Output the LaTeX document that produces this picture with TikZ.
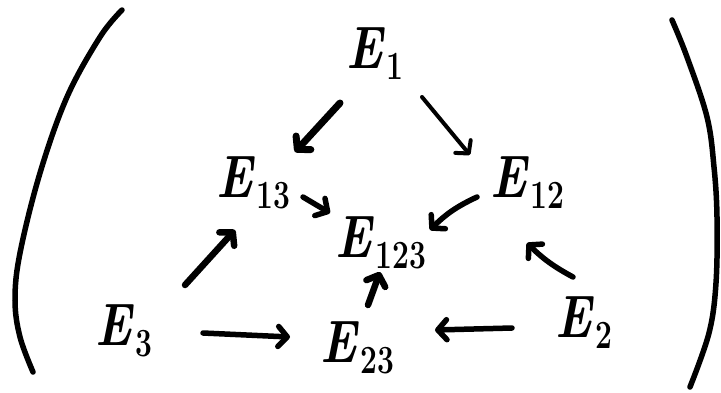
\documentclass[tikz,border=0pt]{standalone}
\usepackage{fontspec}
\usetikzlibrary{arrows.meta}
\newcommand{\Elab}[1]{\scalebox{0.8}[1]{\bfseries\itshape E}\kern4pt\raisebox{-11pt}{\scalebox{0.75}[1]{\fontsize{40}{40}\selectfont\bfseries #1}}}
\tikzset{
  lbl/.style={anchor=base west, inner sep=0pt, font=\fontsize{60}{70}\selectfont},
  arr/.style={line cap=round, line join=round, line width=#1,
    -{Straight Barb[length=9pt,width=20pt,line cap=round,line join=round]}},
  arr/.default=5pt,
  paren/.style={line width=5.5pt, line cap=round}
}
\begin{document}
\begin{tikzpicture}[x=1pt,y=-1pt]
\useasboundingbox (0,0) rectangle (721,392);
% nodes
\node[lbl] (E1)   at (346,68)  {\Elab{1}};
\node[lbl] (E13)  at (216,197) {\Elab{13}};
\node[lbl] (E12)  at (490,197) {\Elab{12}};
\node[lbl] (E123) at (335,257) {\Elab{123}};
\node[lbl] (E3)   at (95,345)  {\Elab{3}};
\node[lbl] (E23)  at (320,362) {\Elab{23}};
\node[lbl] (E2)   at (555,337) {\Elab{2}};
% connector ends
\coordinate (E1-s13)  at (340,103);  \coordinate (E13-t1)  at (295,152);
\coordinate (E1-s12)  at (422,97);   \coordinate (E12-t1)  at (470,155);
\coordinate (E13-s)   at (303,197);  \coordinate (E123-t13) at (330,213);
\coordinate (E12-s)   at (477,197);  \coordinate (E123-t12) at (430,230);
\coordinate (E3-s13)  at (185,285);  \coordinate (E13-t3)  at (235,230);
\coordinate (E2-s12)  at (573,277);  \coordinate (E12-t2)  at (527,243);
\coordinate (E23-s)   at (368,305);  \coordinate (E123-t23) at (380,272);
\coordinate (E3-s23)  at (203,333);  \coordinate (E23-t3)  at (290,337);
\coordinate (E2-s23)  at (512,328);  \coordinate (E23-t2)  at (435,330);
% connectors
\draw[arr=7pt] (E1-s13) -- (E13-t1);
\draw[arr=4pt] (E1-s12) -- (E12-t1);
\draw[arr=5.5pt] (E13-s) -- (E123-t13);
\draw[arr=5.5pt] (E12-s) to[bend right=10] (E123-t12);
\draw[arr=6.5pt] (E3-s13) -- (E13-t3);
\draw[arr=5.5pt] (E2-s12) to[bend left=8] (E12-t2);
\draw[arr=6.5pt] (E23-s) -- (E123-t23);
\draw[arr=5.5pt] (E3-s23) -- (E23-t3);
\draw[arr=5.5pt] (E2-s23) -- (E23-t2);
% parentheses
\draw[paren] plot[smooth, tension=0.6] coordinates {(122,10) (100,37) (67,97) (40,173) (20,253) (15,300) (20,337) (33,372)};
\draw[paren] plot[smooth, tension=0.6] coordinates {(672,20) (687,57) (707,117) (714,167) (717,217) (716,283) (709,333) (690,387)};
\end{tikzpicture}
\end{document}
